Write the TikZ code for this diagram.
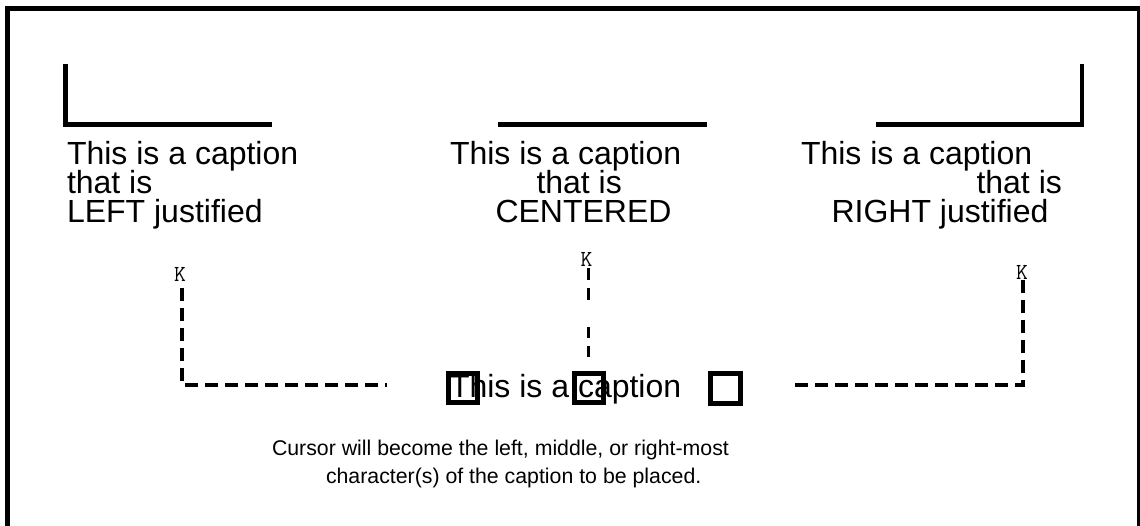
\documentclass[tikz,border=0pt]{standalone}
\usepackage{fontspec}
\setmainfont{Liberation Sans}
\usepackage{tikz}
\usetikzlibrary{positioning}

\begin{document}
\begin{tikzpicture}[x=1pt, y=-1pt, inner sep=0pt, outer sep=0pt]
	\tikzstyle{caption} = [anchor=base west, font=\fontsize{32}{29}\selectfont]
	\tikzstyle{note} = [anchor=base west, font=\fontsize{21.3}{28}\selectfont]
	\tikzstyle{cursor} = [anchor=base, font=\ttfamily\fontsize{23}{23}\selectfont]
	\tikzstyle{bracket} = [line width=4.5pt]
	\tikzstyle{guide} = [line width=3.5pt, dash pattern=on 13pt off 7pt]
	\tikzstyle{charbox} = [draw, line width=5pt, minimum size=29pt]

	\useasboundingbox (0, 0) rectangle (1140, 526);
	\draw[line width=5pt] (7.5, 8.5) rectangle (1139, 560);

	% brackets over the captions
	\draw[bracket] (65.5, 64) -- (65.5, 124.5) -- (272, 124.5);
	\draw[bracket] (498, 124.5) -- (707, 124.5);
	\draw[bracket] (876, 124.5) -- (1082, 124.5) -- (1082, 64);

	\node[caption]		at (67, 165)		(capL1)		{This is a caption};
	\node[caption]		at (67, 194)		(capL2)		{that is};
	\node[caption]		at (67, 223)		(capL3)		{LEFT justified};
	\node[caption]		at (450, 165)		(capC1)		{This is a caption};
	\node[caption]		at (536.5, 194)		(capC2)		{that is};
	\node[caption]		at (495.5, 223)		(capC3)		{CENTERED};
	\node[caption]		at (801, 165)		(capR1)		{This is a caption};
	\node[caption]		at (976.5, 194)		(capR2)		{that is};
	\node[caption]		at (831.5, 223)		(capR3)		{RIGHT justified};

	\node[cursor]		at (180, 282)		(kL)		{K};
	\node[cursor]		at (586.5, 267)		(kC)		{K};
	\node[cursor]		at (1022, 280)		(kR)		{K};

	\node[caption]		at (450, 397)		(row)		{This is a caption};
	\node[charbox]		at (463, 388)		(boxL)		{};
	\node[charbox]		at (588.5, 388)		(boxC)		{};
	\node[charbox, minimum size=30pt]	at (725.5, 388)	(boxR)	{};

	\node[note]			at (272, 455)		(noteA)		{Cursor will become the left, middle, or right-most};
	\node[note]			at (326, 483)		(noteB)		{character(s) of the caption to be placed.};

	\coordinate (cornerL) at (182, 385);
	\coordinate (endL) at (387, 385);
	\coordinate (cornerR) at (1023, 385);
	\coordinate (endR) at (790, 385);

	\draw[guide, shorten <=6pt] (kL.south -| cornerL) -- (cornerL) -- (endL);
	\draw[guide, shorten <=1pt, shorten >=15.5pt, dash pattern=on 12pt off 8pt on 12pt off 27pt on 11pt off 8pt on 11pt off 20pt]
		(kC.south -| boxC.north) -- (boxC.north);
	\draw[guide] (kR.south -| cornerR) -- (cornerR) -- (endR);
\end{tikzpicture}
\end{document}
